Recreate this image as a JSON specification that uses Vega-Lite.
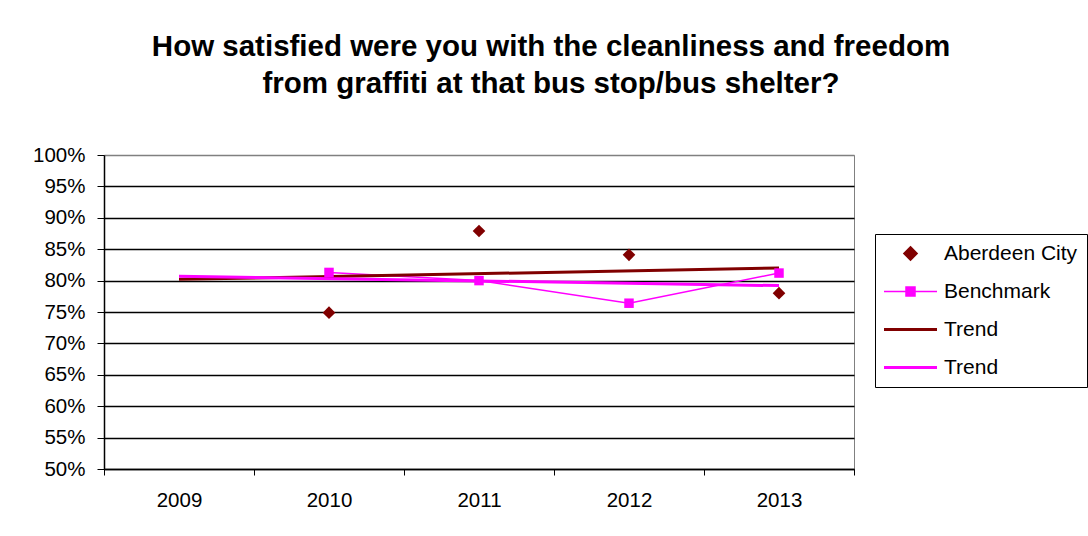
{
  "$schema": "https://vega.github.io/schema/vega-lite/v6.json",
  "autosize": {"type": "none"},
  "width": 750,
  "height": 314,
  "padding": {"left": 104, "top": 155, "right": 234, "bottom": 67},
  "background": "white",
  "title": {
    "text": ["How satisfied were you with the cleanliness and freedom", "from graffiti at that bus stop/bus shelter?"],
    "fontSize": 29.5,
    "fontWeight": "bold",
    "font": "Liberation Sans",
    "color": "black",
    "anchor": "middle",
    "dx": 72,
    "offset": 46,
    "lineHeight": 37
  },
  "config": {
    "font": "Liberation Sans",
    "view": {"stroke": "#808080", "strokeWidth": 1},
    "axis": {"labelColor": "black", "labelFontSize": 20.5, "titleColor": "black", "domainColor": "black", "tickColor": "black"}
  },
  "data": {
    "values": [
      {"year": "2010", "series": "Aberdeen City", "value": 0.749},
      {"year": "2011", "series": "Aberdeen City", "value": 0.879},
      {"year": "2012", "series": "Aberdeen City", "value": 0.841},
      {"year": "2013", "series": "Aberdeen City", "value": 0.780},
      {"year": "2010", "series": "Benchmark", "value": 0.813},
      {"year": "2011", "series": "Benchmark", "value": 0.800},
      {"year": "2012", "series": "Benchmark", "value": 0.764},
      {"year": "2013", "series": "Benchmark", "value": 0.812},
      {"year": "2009", "series": "Trend", "value": 0.802},
      {"year": "2013", "series": "Trend", "value": 0.820},
      {"year": "2009", "series": "Trend2", "value": 0.807},
      {"year": "2013", "series": "Trend2", "value": 0.792}
    ]
  },
  "encoding": {
    "x": {
      "field": "year",
      "type": "ordinal",
      "bandPosition": 0.5,
      "scale": {"type": "band", "domain": ["2009", "2010", "2011", "2012", "2013"], "paddingInner": 0, "paddingOuter": 0},
      "axis": {"title": null, "labelAngle": 0, "tickBand": "extent", "tickSize": 6, "labelPadding": 15, "domainWidth": 1.5, "grid": false}
    },
    "y": {
      "field": "value",
      "type": "quantitative",
      "scale": {"domain": [0.5, 1], "nice": false, "zero": false},
      "axis": {
        "title": null,
        "format": ".0%",
        "values": [0.5, 0.55, 0.6, 0.65, 0.7, 0.75, 0.8, 0.85, 0.9, 0.95, 1.0],
        "tickSize": 7,
        "labelPadding": 12,
        "domainWidth": 1.5,
        "grid": true,
        "gridColor": {"condition": {"test": "datum.value >= 0.999", "value": "#808080"}, "value": "black"},
        "gridWidth": 1.4,
        "gridOpacity": 1
      }
    },
    "color": {
      "field": "series",
      "type": "nominal",
      "scale": {"domain": ["Aberdeen City", "Benchmark", "Trend", "Trend2"], "range": ["#800000", "#FF00FF", "#800000", "#FF00FF"]},
      "legend": {
        "orient": "none",
        "legendX": 771,
        "legendY": 79,
        "title": null,
        "strokeColor": "black",
        "padding": 9,
        "symbolSize": 2809,
        "symbolOffset": 16,
        "labelFontSize": 21,
        "labelColor": "black",
        "labelOffset": 23,
        "gridAlign": "all",
        "rowPadding": 14,
        "labelExpr": "datum.value == 'Trend2' ? 'Trend' : datum.label",
        "encode": {
          "symbols": {
            "update": {
              "shape": {"signal": "datum.value == 'Aberdeen City' ? 'M0,-0.21L0.21,0L0,0.21L-0.21,0Z' : datum.value == 'Benchmark' ? 'M-1,0H1M-0.17,-0.17H0.17V0.17H-0.17Z' : 'M-1,0H1'"},
              "fill": {"signal": "datum.value == 'Aberdeen City' ? '#800000' : datum.value == 'Benchmark' ? '#FF00FF' : 'transparent'"},
              "stroke": {"signal": "datum.value == 'Aberdeen City' ? 'transparent' : datum.value == 'Trend' ? '#800000' : '#FF00FF'"},
              "strokeWidth": {"signal": "datum.value == 'Benchmark' ? 1.5 : 3"},
              "opacity": {"value": 1}
            }
          }
        }
      }
    }
  },
  "layer": [
    {
      "transform": [{"filter": "datum.series == 'Benchmark'"}],
      "mark": {"type": "line", "strokeWidth": 1.5}
    },
    {
      "transform": [{"filter": "datum.series == 'Trend' || datum.series == 'Trend2'"}],
      "mark": {"type": "line", "strokeWidth": 3}
    },
    {
      "transform": [{"filter": "datum.series == 'Benchmark'"}],
      "mark": {"type": "point", "shape": "square", "filled": true, "size": 90, "opacity": 1}
    },
    {
      "transform": [{"filter": "datum.series == 'Aberdeen City'"}],
      "mark": {"type": "point", "shape": "diamond", "filled": true, "size": 160, "opacity": 1}
    }
  ]
}
